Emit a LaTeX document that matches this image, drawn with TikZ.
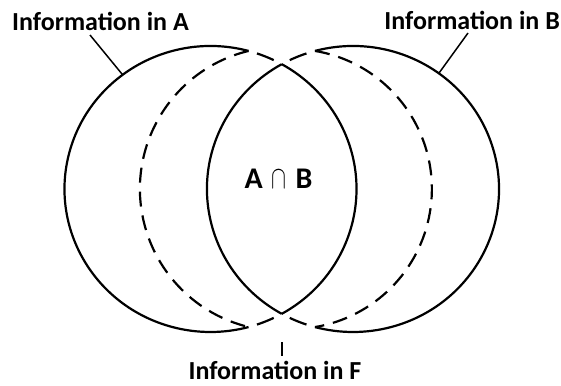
\documentclass[tikz,border=0pt]{standalone}
\usepackage{fontspec}
\setmainfont{Carlito}
\usetikzlibrary{calc}
\begin{document}
\begin{tikzpicture}[x=1pt,y=-1pt,
  solidarc/.style={line width=2.2pt},
  dasharc/.style={line width=2.2pt, dash pattern=on 15pt off 9pt},
  tiparc/.style={line width=2.2pt, dash pattern=on 18pt off 18pt, dash phase=27pt},
  lbl/.style={font=\fontsize{26}{31}\selectfont\bfseries, inner sep=0pt},
  biglbl/.style={font=\fontsize{30}{35}\selectfont\bfseries, inner sep=0pt},
  leader/.style={line width=1.5pt}]
\useasboundingbox (0,0) rectangle (561,385);
% centres
\coordinate (CA) at (210.5,189);
\coordinate (CB) at (353,189);
\coordinate (CFL) at (282,189);
\coordinate (CFR) at (292,189);
% key points
\coordinate (TA) at ($(CA)+(-74.9:146 and 143)$);
\coordinate (BA) at ($(CA)+(74.9:146 and 143)$);
\coordinate (LT) at ($(CA)+(-60.8:146 and 143)$);
\coordinate (LB) at ($(CA)+(60.8:146 and 143)$);
\coordinate (TB) at ($(CB)+(-105.1:146 and 143)$);
\coordinate (BB) at ($(CB)+(105.1:146 and 143)$);
% circle A
\draw[solidarc] (TA) arc[start angle=-74.9, end angle=-285.1, x radius=146, y radius=143];
\draw[tiparc] (LB) arc[start angle=60.8, end angle=74.9, x radius=146, y radius=143];
\draw[solidarc] (LB) arc[start angle=60.8, end angle=-60.8, x radius=146, y radius=143];
\draw[tiparc] (LT) arc[start angle=-60.8, end angle=-74.9, x radius=146, y radius=143];
% circle B
\draw[solidarc] (TB) arc[start angle=-105.1, end angle=105.1, x radius=146, y radius=143];
\draw[tiparc] (LB) arc[start angle=119.2, end angle=105.1, x radius=146, y radius=143];
\draw[solidarc] (LB) arc[start angle=119.2, end angle=240.8, x radius=146, y radius=143];
\draw[tiparc] (LT) arc[start angle=240.8, end angle=254.9, x radius=146, y radius=143];
% dashed inner arcs
\draw[dasharc] (TA) arc[start angle=256.4, end angle=103.6, radius=142];
\draw[dasharc] (TB) arc[start angle=-80.5, end angle=80.5, radius=140];
% labels
\node[lbl, anchor=base west] (la) at (12,31) {Information in A};
\node[lbl, anchor=base east] (lb) at (560,30) {Information in B};
\node[lbl, anchor=base] (lf) at (275,379) {Information in F};
\node[biglbl, anchor=base] (ab) at (278.5,188) {A\hspace{9pt}\scalebox{0.9}[1.3]{$\cap$}\hspace{9pt}B};
% leaders
\coordinate (qA) at (90,35);
\coordinate (pA) at ($(CA)+(-127:146 and 143)$);
\coordinate (qB) at (468,33);
\coordinate (pB) at ($(CB)+(-54:146 and 143)$);
\coordinate (qF) at (282,342);
\coordinate (pF) at (282,356);
\draw[leader] (qA) -- (pA);
\draw[leader] (qB) -- (pB);
\draw[leader] (qF) -- (pF);
\end{tikzpicture}
\end{document}
